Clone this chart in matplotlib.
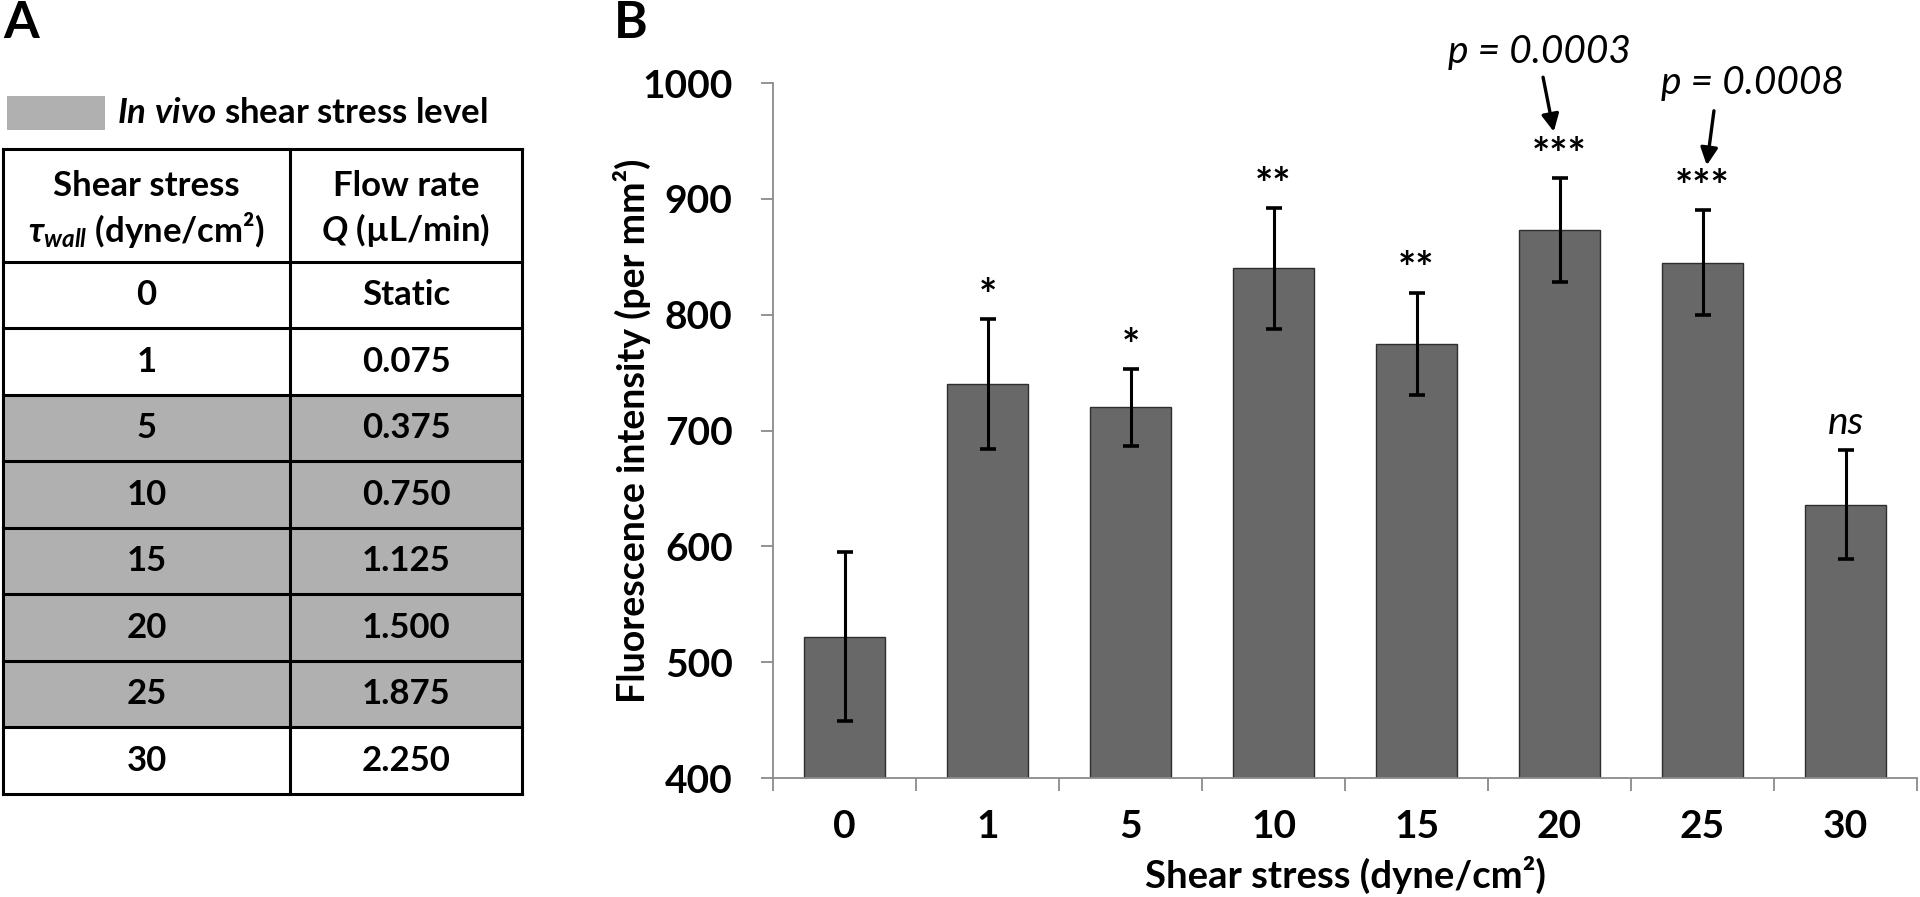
import numpy as np
import matplotlib
matplotlib.use('Agg')
import matplotlib.pyplot as plt
from matplotlib.patches import Rectangle

plt.rcParams['font.family'] = ['Lato', 'DejaVu Sans']
plt.rcParams['mathtext.fontset'] = 'custom'
plt.rcParams['mathtext.it'] = 'Lato:italic:bold'
plt.rcParams['mathtext.rm'] = 'Lato:bold'
plt.rcParams['mathtext.bf'] = 'Lato:bold'
plt.rcParams['mathtext.fallback'] = 'stixsans'

# panel A table
shear_col = ['0', '1', '5', '10', '15', '20', '25', '30']
flow_col = ['Static', '0.075', '0.375', '0.750', '1.125', '1.500', '1.875', '2.250']
in_vivo = [False, False, True, True, True, True, True, False]

# panel B bars
categories = ['0', '1', '5', '10', '15', '20', '25', '30']
means = [522, 740, 720, 840, 775, 873, 845, 636]
errs = [73, 56, 33, 52, 44, 45, 45, 47]
sig = ['', '*', '*', '**', '**', '***', '***', 'ns']
p_text = ['p = 0.0003', 'p = 0.0008']

W, H = 1920, 897
fig = plt.figure(figsize=(W / 100, H / 100), dpi=100)

# ---- panel A (pixel coordinates) ----
axA = fig.add_axes([0, 0, 560 / W, 1])
axA.set_xlim(0, 560)
axA.set_ylim(H, 0)
axA.axis('off')

grey = '#b0b0b0'
cell_fs = 25
axA.text(3, 23, 'A', fontsize=37, fontweight='bold', va='center', ha='left')
axA.add_patch(Rectangle((7, 96), 98, 34, fc=grey, ec='none'))
axA.text(117, 113, r'$\mathit{In\ vivo}$ shear stress level', fontsize=cell_fs,
         fontweight='bold', va='center', ha='left')

x0, xm, x1 = 3, 290, 522
top, hbot = 149, 262
row_h = (794 - hbot) / len(shear_col)
for i, flag in enumerate(in_vivo):
    if flag:
        axA.add_patch(Rectangle((x0, hbot + i * row_h), x1 - x0, row_h,
                                fc=grey, ec='none'))
lw = 2.2
for yy in [top, hbot] + [hbot + (i + 1) * row_h for i in range(len(shear_col))]:
    axA.plot([x0, x1], [yy, yy], color='black', lw=lw, solid_capstyle='projecting')
for xx in [x0, xm, x1]:
    axA.plot([xx, xx], [top, hbot + len(shear_col) * row_h], color='black', lw=lw,
             solid_capstyle='projecting')

c1, c2 = (x0 + xm) / 2, (xm + x1) / 2
axA.text(c1, 186, 'Shear stress', fontsize=cell_fs, fontweight='bold', ha='center', va='center')
axA.text(c1, 230, r'$\tau_{wall}$ (dyne/cm²)', fontsize=cell_fs, fontweight='bold',
         ha='center', va='center')
axA.text(c2, 186, 'Flow rate', fontsize=cell_fs, fontweight='bold', ha='center', va='center')
axA.text(c2, 230, r'$\mathit{Q}$ (µL/min)', fontsize=cell_fs, fontweight='bold',
         ha='center', va='center')
for i in range(len(shear_col)):
    yc = hbot + (i + 0.5) * row_h
    axA.text(c1, yc, shear_col[i], fontsize=cell_fs, fontweight='bold', ha='center', va='center')
    axA.text(c2, yc, flow_col[i], fontsize=cell_fs, fontweight='bold', ha='center', va='center')

# ---- panel B ----
fig.text(614 / W, 1 - 23 / H, 'B', fontsize=37, fontweight='bold', va='center', ha='left')

ax = fig.add_axes([773 / W, 1 - 778 / H, (1917 - 773) / W, (778 - 83) / H])
x = np.arange(len(categories))
ax.bar(x, means, width=0.56, color='#686868', edgecolor='#2e2e2e', linewidth=1.0, zorder=2)
ax.errorbar(x, means, yerr=errs, fmt='none', ecolor='black', elinewidth=2.2,
            capsize=6, capthick=2.6, zorder=3)
ax.set_xlim(-0.5, len(categories) - 0.5)
ax.set_ylim(400, 1000)

for s in ['top', 'right']:
    ax.spines[s].set_visible(False)
for s in ['left', 'bottom']:
    ax.spines[s].set_color('#8a8a8a')
    ax.spines[s].set_linewidth(1.3)

ax.set_yticks(np.arange(400, 1001, 100))
ax.tick_params(axis='y', direction='out', length=9, width=1.3, color='#8a8a8a',
               labelsize=28, pad=20)
ax.set_xticks(x)
ax.set_xticklabels(categories)
ax.set_xticks(np.arange(-0.5, len(categories), 1), minor=True)
ax.tick_params(axis='x', which='major', length=0, labelsize=28, pad=22)
ax.tick_params(axis='x', which='minor', direction='out', length=9, width=1.3, color='#8a8a8a')
for lab in ax.get_xticklabels() + ax.get_yticklabels():
    lab.set_fontweight('bold')

ax.set_ylabel('Fluorescence intensity (per mm²)', fontsize=27, fontweight='bold')
ax.yaxis.label.set(va='center', ha='center')
ax.yaxis.set_label_coords(-0.123, 0.5)
ax.set_xlabel('Shear stress (dyne/cm²)', fontsize=27.5, fontweight='bold')
ax.xaxis.label.set(va='center', ha='center')
ax.xaxis.set_label_coords(0.5, -0.14)

for i, s in enumerate(sig):
    if not s:
        continue
    if s == 'ns':
        ax.text(i, means[i] + errs[i] + 8, s, fontsize=28, style='italic',
                ha='center', va='bottom')
    else:
        ax.text(i, means[i] + errs[i] + 2, s, fontsize=31, fontweight='bold',
                ha='center', va='bottom')

# p-value arrows
arrow_kw = dict(arrowstyle='-|>', lw=2.4, color='black', mutation_scale=26,
                shrinkA=0, shrinkB=0)
ax.annotate('', xy=(4.96, 958), xytext=(4.885, 1005), arrowprops=arrow_kw,
            annotation_clip=False)
ax.annotate('', xy=(6.03, 929), xytext=(6.08, 976), arrowprops=arrow_kw,
            annotation_clip=False)
ax.text(4.86, 1027, p_text[0], fontsize=28, style='italic', ha='center', va='center',
        clip_on=False)
ax.text(6.35, 1000, p_text[1], fontsize=28, style='italic', ha='center', va='center',
        clip_on=False)

fig.savefig('out.png', dpi=100)
